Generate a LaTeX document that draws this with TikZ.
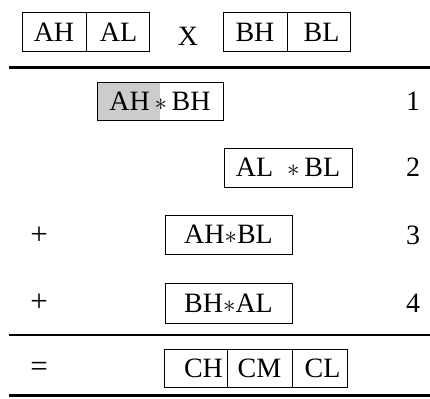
\documentclass[tikz,border=0pt]{standalone}
\usepackage{fontspec}
\setmainfont{Liberation Serif}
\newcommand{\bigfs}{\fontsize{28}{32}\selectfont}
\newcommand{\opfs}{\fontsize{31}{35}\selectfont}
\begin{document}
\begin{tikzpicture}[x=1pt,y=-1pt,
  cell/.style={draw, line width=0.8pt, inner sep=0pt, outer sep=0pt, minimum height=38pt, font=\bigfs},
  lbl/.style={inner sep=0pt, font=\bigfs},
  oplbl/.style={inner sep=0pt, font=\opfs},
  rule/.style={line width=2.4pt}]
\useasboundingbox (0,0) rectangle (430,398);
% top row
\node[cell, minimum width=64pt, minimum height=39pt] (ah) at (54,32.2) {\raisebox{-6pt}{AH}};
\node[cell, minimum width=63pt, minimum height=39pt] (al) at (117.5,32.2) {\raisebox{-6pt}{\hspace{2pt}AL}};
\node[lbl] (x) at (188,36) {X};
\node[cell, minimum width=64pt, minimum height=39pt] (bh) at (255,32.2) {\raisebox{-6pt}{BH}};
\node[cell, minimum width=63pt, minimum height=39pt] (bl) at (318.5,32.2) {\raisebox{-6pt}{\hspace{6pt}BL}};
% rule 1
\coordinate (l1a) at (9,67.7); \coordinate (l1b) at (430,67.7);
\draw[rule] (l1a) -- (l1b);
% row 1
\node[fill=black!20, inner sep=0pt, minimum width=63pt, minimum height=38pt] (g1) at (128.5,101) {};
\node[cell, minimum width=126pt] (r1) at (160,101) {AH\,$*$\,BH};
\node[lbl] (n1) at (413,101) {1};
% row 2
\node[cell, minimum width=128pt, minimum height=39pt] (r2) at (288,167.5) {AL\ \ $*$\,BL};
\node[lbl] (n2) at (413,167.5) {2};
% row 3
\node[oplbl] (p3) at (39,236) {+};
\node[cell, minimum width=127pt, minimum height=39pt] (r3) at (228.5,234.5) {AH$*$BL\hspace{4pt}};
\node[lbl] (n3) at (413,235) {3};
% row 4
\node[oplbl] (p4) at (39,303) {+};
\node[cell, minimum width=127pt, minimum height=40pt] (r4) at (228.5,303) {BH$*$AL\hspace{4pt}};
\node[lbl] (n4) at (413,303) {4};
% rule 2
\coordinate (l2a) at (9,335); \coordinate (l2b) at (430,335);
\draw[rule] (l2a) -- (l2b);
% row 5
\node[oplbl] (eq) at (39,369) {=};
\node[cell, minimum width=63pt] (ch) at (195.5,368) {\hspace{16pt}CH};
\node[cell, minimum width=65pt] (cm) at (259.5,368) {CM};
\node[cell, minimum width=55pt] (cl) at (319.5,368) {\hspace{6pt}CL};
% rule 3
\coordinate (l3a) at (9,395.5); \coordinate (l3b) at (430,395.5);
\draw[rule] (l3a) -- (l3b);
\end{tikzpicture}
\end{document}
